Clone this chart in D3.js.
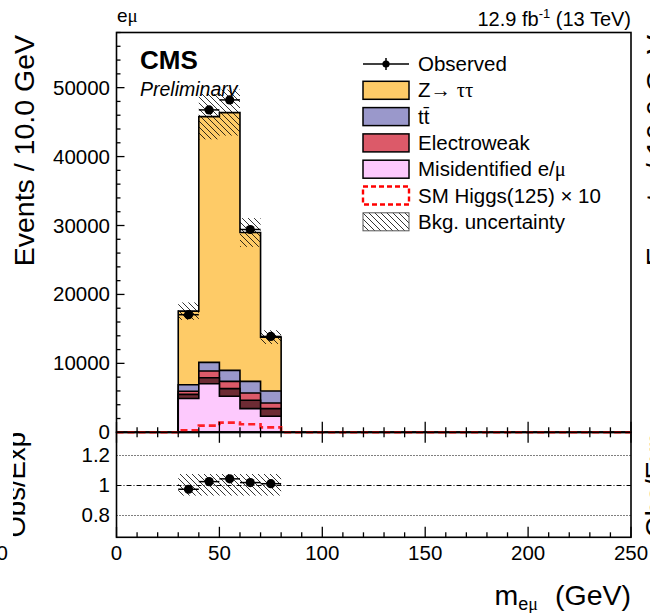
<!DOCTYPE html>
<html>
<head>
<meta charset="utf-8">
<script src="https://cdn.jsdelivr.net/npm/d3@7"></script>
<style>
  body { margin: 0; background: #fff; }
  svg { display: block; font-family: "Liberation Sans", Arial, sans-serif; }
</style>
</head>
<body>
<svg id="chart" width="650" height="613"></svg>
<script>
// bin edges in GeV (m_emu), 10 GeV bins
const binEdges = [30, 40, 50, 60, 70, 80];

// stacked backgrounds, bottom to top (events per bin)
const misid = [4900, 7050, 5220, 3430, 2320];
const ewkDark = [600, 870, 1110, 1210, 1110];
const ewk = [450, 980, 1060, 1060, 820];
const ttbar = [950, 1250, 1600, 1690, 1740];
const ztt = [10680, 35650, 37390, 21600, 7820];

const observed = [17060, 46770, 48220, 29420, 13910];
const higgsX10 = [290, 970, 1400, 1160, 720];
const bkgUnc = [0.072, 0.072, 0.072, 0.072, 0.072];

const yTicksMain = [0, 10000, 20000, 30000, 40000, 50000];
const yTicksRatio = [0.8, 1, 1.2];
const xTicks = [0, 50, 100, 150, 200, 250];

const colors = {
  misid: "#fdc9fd",
  ewkDark: "#6d2b34",
  ewk: "#dc5a69",
  ttbar: "#9a98cb",
  ztt: "#fecb67",
};

let svg = d3.select("#chart");

let x = d3.scaleLinear().domain([0, 250]).range([116.5, 631]);
let y = d3.scaleLinear().domain([0, 58000]).range([432.3, 32.5]);
let yr = d3.scaleLinear().domain([0.65, 1.35]).range([537.3, 432.3]);

// hatch pattern for bkg uncertainty
let defs = svg.append("defs");
defs.append("pattern")
  .attr("id", "hatch")
  .attr("patternUnits", "userSpaceOnUse")
  .attr("width", 6).attr("height", 6)
  .append("path")
  .attr("d", "M0,0L6,6M-1,5L1,7M5,-1L7,1")
  .attr("stroke", "#000")
  .attr("stroke-width", 0.8);
// the axis titles are clipped by the pad edge in the original
defs.append("clipPath").attr("id", "padClip")
  .append("rect").attr("x", 13).attr("y", 0).attr("width", 100).attr("height", 613);
// neighbouring pad on the right, only the tips of its titles show
defs.append("clipPath").attr("id", "nextPadClip")
  .append("rect").attr("x", 636).attr("y", 0).attr("width", 20).attr("height", 613);

// build table for the stack
let keys = ["misid", "ewkDark", "ewk", "ttbar", "ztt"];
let src = { misid, ewkDark, ewk, ttbar, ztt };
let rows = observed.map((_, i) => {
  let r = {};
  keys.forEach((k) => (r[k] = src[k][i]));
  return r;
});
let series = d3.stack().keys(keys)(rows);
let total = rows.map((_, i) => series[series.length - 1][i][1]);

let stepPts = (vals) => binEdges.map((e, i) => [e, vals[Math.min(i, vals.length - 1)]]);

let area = d3.area()
  .curve(d3.curveStepAfter)
  .x((d) => x(d[0]))
  .y0(y(0))
  .y1((d) => y(d[1]));

// stacked histograms, outermost first
let gStack = svg.append("g");
series.slice().reverse().forEach((s) => {
  gStack.append("path")
    .attr("d", area(stepPts(s.map((d) => d[1]))))
    .attr("fill", colors[s.key])
    .attr("stroke", "#000")
    .attr("stroke-width", 1.6)
    .attr("stroke-linejoin", "miter");
});

// uncertainty band main
svg.append("g").selectAll("rect")
  .data(total)
  .join("rect")
  .attr("x", (d, i) => x(binEdges[i]))
  .attr("width", (d, i) => x(binEdges[i + 1]) - x(binEdges[i]))
  .attr("y", (d, i) => y(d * (1 + bkgUnc[i])))
  .attr("height", (d, i) => y(d * (1 - bkgUnc[i])) - y(d * (1 + bkgUnc[i])))
  .attr("fill", "url(#hatch)");

// observed points
let gObs = svg.append("g");
observed.forEach((v, i) => {
  let cx = x((binEdges[i] + binEdges[i + 1]) / 2);
  gObs.append("line")
    .attr("x1", x(binEdges[i])).attr("x2", x(binEdges[i + 1]))
    .attr("y1", y(v)).attr("y2", y(v))
    .attr("stroke", "#000").attr("stroke-width", 1.5);
  gObs.append("circle").attr("cx", cx).attr("cy", y(v)).attr("r", 4.6).attr("fill", "#000");
});

// ratio panel grid lines
[[0.8, "1,2"], [1, "5,2,1,2"], [1.2, "1,2"]].forEach(([v, dash]) => {
  let yy = Math.round(yr(v)) + 0.5;
  svg.append("line")
    .attr("x1", x(0)).attr("x2", x(250))
    .attr("y1", yy).attr("y2", yy)
    .attr("stroke", "#000").attr("stroke-width", 1)
    .attr("stroke-dasharray", dash);
});

// ratio band + points
svg.append("g").selectAll("rect")
  .data(total)
  .join("rect")
  .attr("x", (d, i) => x(binEdges[i]))
  .attr("width", (d, i) => x(binEdges[i + 1]) - x(binEdges[i]))
  .attr("y", (d, i) => yr(1 + bkgUnc[i]))
  .attr("height", (d, i) => yr(1 - bkgUnc[i]) - yr(1 + bkgUnc[i]))
  .attr("fill", "url(#hatch)");

let gRat = svg.append("g");
observed.forEach((v, i) => {
  let r = v / total[i];
  gRat.append("line")
    .attr("x1", x(binEdges[i])).attr("x2", x(binEdges[i + 1]))
    .attr("y1", yr(r)).attr("y2", yr(r))
    .attr("stroke", "#000").attr("stroke-width", 1.5);
  gRat.append("circle")
    .attr("cx", x((binEdges[i] + binEdges[i + 1]) / 2)).attr("cy", yr(r))
    .attr("r", 4.6).attr("fill", "#000");
});

// frames
svg.append("rect")
  .attr("x", x(0)).attr("y", y.range()[1])
  .attr("width", x(250) - x(0)).attr("height", y(0) - y.range()[1])
  .attr("fill", "none").attr("stroke", "#000").attr("stroke-width", 1.6);
svg.append("rect")
  .attr("x", x(0)).attr("y", yr.range()[1])
  .attr("width", x(250) - x(0)).attr("height", yr.range()[0] - yr.range()[1])
  .attr("fill", "none").attr("stroke", "#000").attr("stroke-width", 1.6);
svg.append("line")
  .attr("x1", x(0)).attr("x2", x(250)).attr("y1", y(0)).attr("y2", y(0))
  .attr("stroke", "#000").attr("stroke-width", 1.8);

// higgs x10, dashed, over whole range (sits on the zero line outside 30-80)
let higgsPts = [[0, 0]].concat(stepPts(higgsX10).slice(0, -1), [[80, 0], [250, 0]]);
svg.append("path")
  .attr("d", d3.line().curve(d3.curveStepAfter).x((d) => x(d[0])).y((d) => y(d[1]))(higgsPts))
  .attr("fill", "none")
  .attr("stroke", "#ff0000")
  .attr("stroke-opacity", 0.85)
  .attr("stroke-width", 2.6)
  .attr("stroke-dasharray", "7,4");
svg.append("line")
  .attr("x1", x(0)).attr("x2", x(250)).attr("y1", y(0)).attr("y2", y(0))
  .attr("stroke", "#000").attr("stroke-width", 1.4);

// ticks
let gTicks = svg.append("g").attr("stroke", "#000").attr("stroke-width", 1.3);
d3.range(0, 58001, 2000).forEach((v) => {
  let len = v % 10000 === 0 ? 8 : 4;
  gTicks.append("line").attr("x1", x(0)).attr("x2", x(0) + len).attr("y1", y(v)).attr("y2", y(v));
});
d3.range(0, 251, 10).forEach((v) => {
  let len = v % 50 === 0 ? 10.5 : 5;
  gTicks.append("line").attr("x1", x(v)).attr("x2", x(v)).attr("y1", y(0) - len).attr("y2", y(0) + len);
  gTicks.append("line").attr("x1", x(v)).attr("x2", x(v)).attr("y1", yr(0.65)).attr("y2", yr(0.65) - len);
});

// tick labels
let fs = 20.5;
svg.append("g").selectAll("text")
  .data(yTicksMain)
  .join("text")
  .attr("x", 110).attr("y", (d) => y(d) + 7)
  .attr("text-anchor", "end")
  .attr("font-size", fs)
  .text((d) => d);
svg.append("g").selectAll("text")
  .data(yTicksRatio)
  .join("text")
  .attr("x", 110).attr("y", (d) => yr(d) + 7)
  .attr("text-anchor", "end")
  .attr("font-size", fs)
  .text((d) => d);
svg.append("g").selectAll("text")
  .data(xTicks)
  .join("text")
  .attr("x", (d) => x(d)).attr("y", 560)
  .attr("text-anchor", "middle")
  .attr("font-size", fs)
  .text((d) => d);
// cut-off label of the neighbouring pad
svg.append("text").attr("x", 8).attr("y", 560).attr("text-anchor", "end")
  .attr("font-size", fs).text("250");

// axis titles, plus the clipped tips of the next pad's titles
[[0, 0, "padClip"], [631.5, 640, "nextPadClip"]].forEach(([dx, dxr, clip]) => {
  let g = svg.append("g").attr("clip-path", `url(#${clip})`);
  g.append("text")
    .attr("transform", `translate(${34 + dx},35) rotate(-90)`)
    .attr("text-anchor", "end")
    .attr("font-size", 28.5)
    .text("Events / 10.0 GeV");
  g.append("text")
    .attr("transform", `translate(${25 + dxr},${yr(1)}) rotate(-90)`)
    .attr("text-anchor", "middle")
    .attr("font-size", 27.5)
    .text("Obs/Exp");
});

let xt = svg.append("text").attr("x", 631).attr("y", 605).attr("text-anchor", "end").attr("font-size", 28.5);
xt.append("tspan").text("m");
xt.append("tspan").attr("font-size", 18).attr("dy", 5).text("e");
xt.append("tspan").attr("font-size", 18).attr("font-family", "Liberation Serif, serif").text("μ");
xt.append("tspan").attr("dy", -5).attr("dx", 17).text("(GeV)");

// header texts
let em = svg.append("text").attr("x", 117).attr("y", 22).attr("font-size", 19);
em.append("tspan").text("e");
em.append("tspan").attr("font-family", "Liberation Serif, serif").text("μ");

let lumi = svg.append("text").attr("x", 631).attr("y", 26).attr("text-anchor", "end").attr("font-size", 20);
lumi.append("tspan").text("12.9 fb");
lumi.append("tspan").attr("font-size", 13).attr("dy", -8).text("-1");
lumi.append("tspan").attr("dy", 8).text(" (13 TeV)");

svg.append("text").attr("x", 140).attr("y", 69)
  .attr("font-size", 26).attr("font-weight", "bold").text("CMS");
svg.append("text").attr("x", 140).attr("y", 96)
  .attr("font-size", 19.5).attr("font-style", "italic").text("Preliminary");

// legend
let legendRows = [
  { label: "Observed", type: "obs" },
  { label: "Z→ ", greek: "ττ", type: "fill", color: colors.ztt },
  { label: "tt\u0304", type: "fill", color: colors.ttbar },
  { label: "Electroweak", type: "fill", color: colors.ewk },
  { label: "Misidentified e/", greek: "μ", type: "fill", color: colors.misid },
  { label: "SM Higgs(125) × 10", type: "dash" },
  { label: "Bkg. uncertainty", type: "hatch" },
];
let lx = 363, lw = 46, lh = 18, ly0 = 64, ldy = 26.3;
let gLeg = svg.append("g");
legendRows.forEach((r, i) => {
  let cy = ly0 + i * ldy;
  if (r.type === "obs") {
    gLeg.append("line").attr("x1", lx).attr("x2", lx + lw).attr("y1", cy).attr("y2", cy)
      .attr("stroke", "#000").attr("stroke-width", 1.5);
    gLeg.append("line").attr("x1", lx + lw / 2).attr("x2", lx + lw / 2).attr("y1", cy - 6).attr("y2", cy + 6)
      .attr("stroke", "#000").attr("stroke-width", 1.5);
    gLeg.append("circle").attr("cx", lx + lw / 2).attr("cy", cy).attr("r", 3.6).attr("fill", "#000");
  } else if (r.type === "fill") {
    gLeg.append("rect").attr("x", lx).attr("y", cy - lh / 2).attr("width", lw).attr("height", lh)
      .attr("fill", r.color).attr("stroke", "#000").attr("stroke-width", 1.5);
  } else if (r.type === "dash") {
    gLeg.append("rect").attr("x", lx).attr("y", cy - lh / 2).attr("width", lw).attr("height", lh)
      .attr("fill", "none").attr("stroke", "#ff0000").attr("stroke-width", 2.4)
      .attr("stroke-dasharray", "5,3");
  } else {
    gLeg.append("rect").attr("x", lx).attr("y", cy - lh / 2).attr("width", lw).attr("height", lh)
      .attr("fill", "url(#hatch)").attr("stroke", "#555").attr("stroke-width", 1);
  }
  let t = gLeg.append("text").attr("x", 418).attr("y", cy + 7).attr("font-size", 20.5);
  t.append("tspan").text(r.label);
  if (r.greek) t.append("tspan").attr("font-family", "Liberation Serif, serif").text(r.greek);
});
</script>
</body>
</html>
